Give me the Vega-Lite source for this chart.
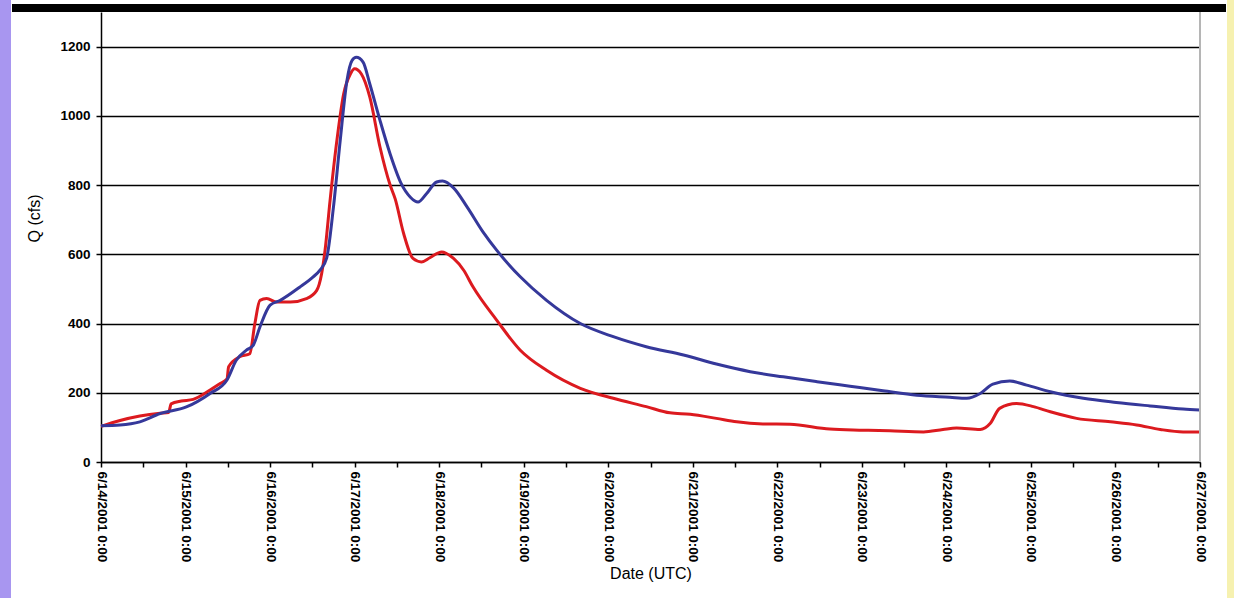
{
  "$schema": "https://vega.github.io/schema/vega-lite/v6.json",
  "width": 1099,
  "height": 450,
  "autosize": {"type": "none"},
  "padding": {"left": 101, "top": 12, "right": 34, "bottom": 136},
  "background": "white",
  "config": {"view": {"stroke": null}, "font": "Liberation Sans"},
  "datasets": {
    "flow": [
      {"t": "2001-06-14T00:00", "q": 103, "s": "Observed"},
      {"t": "2001-06-14T05:24", "q": 120, "s": "Observed"},
      {"t": "2001-06-14T11:02", "q": 133, "s": "Observed"},
      {"t": "2001-06-14T16:48", "q": 141, "s": "Observed"},
      {"t": "2001-06-14T19:12", "q": 143, "s": "Observed"},
      {"t": "2001-06-14T19:55", "q": 168, "s": "Observed"},
      {"t": "2001-06-14T22:48", "q": 176, "s": "Observed"},
      {"t": "2001-06-15T02:10", "q": 181, "s": "Observed"},
      {"t": "2001-06-15T06:58", "q": 208, "s": "Observed"},
      {"t": "2001-06-15T09:50", "q": 227, "s": "Observed"},
      {"t": "2001-06-15T11:46", "q": 240, "s": "Observed"},
      {"t": "2001-06-15T12:14", "q": 275, "s": "Observed"},
      {"t": "2001-06-15T15:22", "q": 304, "s": "Observed"},
      {"t": "2001-06-15T18:14", "q": 313, "s": "Observed"},
      {"t": "2001-06-15T19:41", "q": 400, "s": "Observed"},
      {"t": "2001-06-15T21:07", "q": 467, "s": "Observed"},
      {"t": "2001-06-15T23:02", "q": 472, "s": "Observed"},
      {"t": "2001-06-16T01:55", "q": 462, "s": "Observed"},
      {"t": "2001-06-16T05:46", "q": 462, "s": "Observed"},
      {"t": "2001-06-16T10:19", "q": 472, "s": "Observed"},
      {"t": "2001-06-16T13:12", "q": 495, "s": "Observed"},
      {"t": "2001-06-16T14:38", "q": 544, "s": "Observed"},
      {"t": "2001-06-16T15:36", "q": 611, "s": "Observed"},
      {"t": "2001-06-16T17:02", "q": 756, "s": "Observed"},
      {"t": "2001-06-16T18:58", "q": 929, "s": "Observed"},
      {"t": "2001-06-16T20:53", "q": 1063, "s": "Observed"},
      {"t": "2001-06-16T22:48", "q": 1121, "s": "Observed"},
      {"t": "2001-06-17T00:00", "q": 1136, "s": "Observed"},
      {"t": "2001-06-17T01:55", "q": 1121, "s": "Observed"},
      {"t": "2001-06-17T04:19", "q": 1054, "s": "Observed"},
      {"t": "2001-06-17T07:12", "q": 910, "s": "Observed"},
      {"t": "2001-06-17T10:05", "q": 800, "s": "Observed"},
      {"t": "2001-06-17T11:31", "q": 760, "s": "Observed"},
      {"t": "2001-06-17T13:55", "q": 660, "s": "Observed"},
      {"t": "2001-06-17T16:34", "q": 588, "s": "Observed"},
      {"t": "2001-06-17T18:58", "q": 578, "s": "Observed"},
      {"t": "2001-06-17T21:22", "q": 590, "s": "Observed"},
      {"t": "2001-06-18T00:43", "q": 607, "s": "Observed"},
      {"t": "2001-06-18T04:05", "q": 588, "s": "Observed"},
      {"t": "2001-06-18T06:58", "q": 554, "s": "Observed"},
      {"t": "2001-06-18T09:36", "q": 506, "s": "Observed"},
      {"t": "2001-06-18T16:19", "q": 410, "s": "Observed"},
      {"t": "2001-06-18T23:02", "q": 323, "s": "Observed"},
      {"t": "2001-06-19T06:29", "q": 265, "s": "Observed"},
      {"t": "2001-06-19T16:05", "q": 213, "s": "Observed"},
      {"t": "2001-06-20T01:26", "q": 184, "s": "Observed"},
      {"t": "2001-06-20T10:48", "q": 160, "s": "Observed"},
      {"t": "2001-06-20T17:31", "q": 142, "s": "Observed"},
      {"t": "2001-06-20T23:17", "q": 138, "s": "Observed"},
      {"t": "2001-06-21T06:43", "q": 126, "s": "Observed"},
      {"t": "2001-06-21T12:29", "q": 116, "s": "Observed"},
      {"t": "2001-06-21T19:55", "q": 110, "s": "Observed"},
      {"t": "2001-06-22T03:36", "q": 109, "s": "Observed"},
      {"t": "2001-06-22T14:53", "q": 95, "s": "Observed"},
      {"t": "2001-06-23T00:29", "q": 92, "s": "Observed"},
      {"t": "2001-06-23T07:55", "q": 90, "s": "Observed"},
      {"t": "2001-06-23T17:31", "q": 87, "s": "Observed"},
      {"t": "2001-06-23T23:02", "q": 94, "s": "Observed"},
      {"t": "2001-06-24T02:53", "q": 98, "s": "Observed"},
      {"t": "2001-06-24T09:36", "q": 94, "s": "Observed"},
      {"t": "2001-06-24T12:29", "q": 112, "s": "Observed"},
      {"t": "2001-06-24T15:07", "q": 155, "s": "Observed"},
      {"t": "2001-06-24T19:55", "q": 169, "s": "Observed"},
      {"t": "2001-06-25T00:43", "q": 160, "s": "Observed"},
      {"t": "2001-06-25T05:31", "q": 145, "s": "Observed"},
      {"t": "2001-06-25T12:58", "q": 126, "s": "Observed"},
      {"t": "2001-06-25T22:34", "q": 116, "s": "Observed"},
      {"t": "2001-06-26T06:00", "q": 107, "s": "Observed"},
      {"t": "2001-06-26T12:43", "q": 94, "s": "Observed"},
      {"t": "2001-06-26T19:12", "q": 87, "s": "Observed"},
      {"t": "2001-06-27T00:00", "q": 87, "s": "Observed"},
      {"t": "2001-06-14T00:00", "q": 105, "s": "Simulated"},
      {"t": "2001-06-14T05:24", "q": 107, "s": "Simulated"},
      {"t": "2001-06-14T11:02", "q": 116, "s": "Simulated"},
      {"t": "2001-06-14T16:48", "q": 140, "s": "Simulated"},
      {"t": "2001-06-15T00:14", "q": 159, "s": "Simulated"},
      {"t": "2001-06-15T06:58", "q": 198, "s": "Simulated"},
      {"t": "2001-06-15T11:46", "q": 237, "s": "Simulated"},
      {"t": "2001-06-15T14:24", "q": 294, "s": "Simulated"},
      {"t": "2001-06-15T17:17", "q": 323, "s": "Simulated"},
      {"t": "2001-06-15T19:12", "q": 337, "s": "Simulated"},
      {"t": "2001-06-15T21:07", "q": 390, "s": "Simulated"},
      {"t": "2001-06-16T00:00", "q": 453, "s": "Simulated"},
      {"t": "2001-06-16T02:53", "q": 467, "s": "Simulated"},
      {"t": "2001-06-16T08:24", "q": 505, "s": "Simulated"},
      {"t": "2001-06-16T12:14", "q": 535, "s": "Simulated"},
      {"t": "2001-06-16T14:10", "q": 554, "s": "Simulated"},
      {"t": "2001-06-16T16:05", "q": 590, "s": "Simulated"},
      {"t": "2001-06-16T18:00", "q": 737, "s": "Simulated"},
      {"t": "2001-06-16T19:55", "q": 929, "s": "Simulated"},
      {"t": "2001-06-16T21:50", "q": 1102, "s": "Simulated"},
      {"t": "2001-06-16T23:17", "q": 1160, "s": "Simulated"},
      {"t": "2001-06-17T00:29", "q": 1169, "s": "Simulated"},
      {"t": "2001-06-17T02:24", "q": 1155, "s": "Simulated"},
      {"t": "2001-06-17T04:19", "q": 1092, "s": "Simulated"},
      {"t": "2001-06-17T07:12", "q": 987, "s": "Simulated"},
      {"t": "2001-06-17T10:05", "q": 890, "s": "Simulated"},
      {"t": "2001-06-17T13:12", "q": 805, "s": "Simulated"},
      {"t": "2001-06-17T15:50", "q": 765, "s": "Simulated"},
      {"t": "2001-06-17T18:00", "q": 751, "s": "Simulated"},
      {"t": "2001-06-17T20:24", "q": 775, "s": "Simulated"},
      {"t": "2001-06-17T23:17", "q": 809, "s": "Simulated"},
      {"t": "2001-06-18T00:58", "q": 812, "s": "Simulated"},
      {"t": "2001-06-18T04:05", "q": 792, "s": "Simulated"},
      {"t": "2001-06-18T07:55", "q": 737, "s": "Simulated"},
      {"t": "2001-06-18T12:29", "q": 664, "s": "Simulated"},
      {"t": "2001-06-18T16:19", "q": 612, "s": "Simulated"},
      {"t": "2001-06-18T23:02", "q": 535, "s": "Simulated"},
      {"t": "2001-06-19T06:29", "q": 467, "s": "Simulated"},
      {"t": "2001-06-19T16:05", "q": 400, "s": "Simulated"},
      {"t": "2001-06-20T01:26", "q": 362, "s": "Simulated"},
      {"t": "2001-06-20T10:48", "q": 333, "s": "Simulated"},
      {"t": "2001-06-20T21:22", "q": 309, "s": "Simulated"},
      {"t": "2001-06-21T06:43", "q": 283, "s": "Simulated"},
      {"t": "2001-06-21T16:19", "q": 261, "s": "Simulated"},
      {"t": "2001-06-22T01:41", "q": 246, "s": "Simulated"},
      {"t": "2001-06-22T11:17", "q": 232, "s": "Simulated"},
      {"t": "2001-06-22T20:38", "q": 219, "s": "Simulated"},
      {"t": "2001-06-23T06:00", "q": 206, "s": "Simulated"},
      {"t": "2001-06-23T15:36", "q": 193, "s": "Simulated"},
      {"t": "2001-06-24T00:58", "q": 187, "s": "Simulated"},
      {"t": "2001-06-24T05:46", "q": 184, "s": "Simulated"},
      {"t": "2001-06-24T09:36", "q": 198, "s": "Simulated"},
      {"t": "2001-06-24T13:12", "q": 225, "s": "Simulated"},
      {"t": "2001-06-24T18:00", "q": 234, "s": "Simulated"},
      {"t": "2001-06-24T22:48", "q": 222, "s": "Simulated"},
      {"t": "2001-06-25T05:31", "q": 203, "s": "Simulated"},
      {"t": "2001-06-25T14:53", "q": 184, "s": "Simulated"},
      {"t": "2001-06-26T00:14", "q": 172, "s": "Simulated"},
      {"t": "2001-06-26T09:50", "q": 162, "s": "Simulated"},
      {"t": "2001-06-26T19:12", "q": 153, "s": "Simulated"},
      {"t": "2001-06-27T00:00", "q": 150, "s": "Simulated"}
    ]
  },
  "layer": [
    {
      "data": {"name": "flow"},
      "mark": {"type": "line", "strokeWidth": 3, "interpolate": "monotone"},
      "encoding": {
        "x": {
          "field": "t",
          "type": "temporal",
          "scale": {"domain": [{"year": 2001, "month": 6, "date": 14}, {"year": 2001, "month": 6, "date": 27}], "nice": false},
          "axis": {
            "title": "Date (UTC)",
            "format": "%-m/%-d/%Y %-H:%M",
            "labelExpr": "hours(datum.value) === 0 ? datum.label : ''",
            "labelAngle": 90,
            "labelAlign": "left",
            "labelBaseline": "middle",
            "labelFont": "Liberation Sans",
            "labelFontWeight": "bold",
            "labelFontSize": 13.5,
            "labelColor": "black",
            "labelPadding": 4,
            "labelOverlap": false,
            "labelFlush": false,
            "tickColor": "black",
            "tickWidth": 1.5,
            "tickSize": 5,
            "domainColor": "black",
            "domainWidth": 1.5,
            "grid": false,
            "titleFont": "Liberation Sans",
            "titleFontSize": 16,
            "titleFontWeight": "normal",
            "titleColor": "black"
          }
        },
        "y": {
          "field": "q",
          "type": "quantitative",
          "scale": {"domain": [0, 1300], "nice": false},
          "axis": {
            "title": "Q (cfs)",
            "values": [0, 200, 400, 600, 800, 1000, 1200],
            "format": "d",
            "grid": true,
            "gridColor": "black",
            "gridWidth": 1.3,
            "tickColor": "black",
            "tickWidth": 1.5,
            "tickSize": 5,
            "domainColor": "black",
            "domainWidth": 1.5,
            "labelFont": "Liberation Sans",
            "labelFontWeight": "bold",
            "labelFontSize": 13.5,
            "labelColor": "black",
            "labelPadding": 6,
            "titleFont": "Liberation Sans",
            "titleFontSize": 16,
            "titleFontWeight": "normal",
            "titleColor": "black",
            "titleX": -59,
            "titleY": 206
          }
        },
        "color": {
          "field": "s",
          "type": "nominal",
          "scale": {"domain": ["Observed", "Simulated"], "range": ["#dc1a1f", "#35389a"]},
          "legend": null
        }
      }
    },
    {
      "data": {"values": [{}]},
      "mark": {"type": "rule", "color": "#b5b5b5", "strokeWidth": 2},
      "encoding": {"x": {"datum": {"year": 2001, "month": 6, "date": 27}, "type": "temporal"}}
    },
    {
      "data": {"values": [{}]},
      "mark": {"type": "rect", "color": "black"},
      "encoding": {
        "x": {"datum": {"year": 2001, "month": 6, "date": 12, "hours": 22, "minutes": 44}, "type": "temporal"},
        "x2": {"datum": {"year": 2001, "month": 6, "date": 27, "hours": 7, "minutes": 23}},
        "y": {"datum": 1323, "type": "quantitative"},
        "y2": {"datum": 1300}
      }
    },
    {
      "data": {"values": [{}]},
      "mark": {"type": "rect", "color": "#a896f0"},
      "encoding": {
        "x": {"datum": {"year": 2001, "month": 6, "date": 12, "hours": 19, "minutes": 0}, "type": "temporal"},
        "x2": {"datum": {"year": 2001, "month": 6, "date": 12, "hours": 22, "minutes": 27}},
        "y": {"datum": 1340, "type": "quantitative"},
        "y2": {"datum": -400}
      }
    },
    {
      "data": {"values": [{}]},
      "mark": {"type": "rect", "color": "#f6f1b0"},
      "encoding": {
        "x": {"datum": {"year": 2001, "month": 6, "date": 27, "hours": 7, "minutes": 40}, "type": "temporal"},
        "x2": {"datum": {"year": 2001, "month": 6, "date": 27, "hours": 12, "minutes": 0}},
        "y": {"datum": 1340, "type": "quantitative"},
        "y2": {"datum": -400}
      }
    }
  ]
}
